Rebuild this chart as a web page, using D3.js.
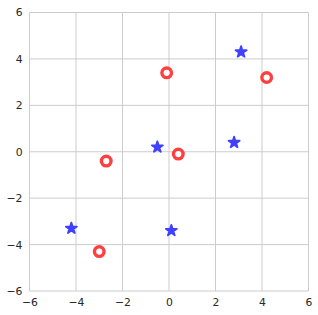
<!DOCTYPE html>
<html>
<head>
<meta charset="utf-8">
<script src="https://cdn.jsdelivr.net/npm/d3@7"></script>
<style>
  body { margin: 0; background: #fff; }
  text { font-family: "DejaVu Sans", sans-serif; }
</style>
</head>
<body>
<div class="chart"></div>
<script>
// red hollow circles
var circleX = [-0.1, 4.2, -2.7, 0.4, -3.0];
var circleY = [3.4, 3.2, -0.4, -0.1, -4.3];
// blue stars
var starX = [3.1, -0.5, 2.8, -4.2, 0.1];
var starY = [4.3, 0.2, 0.4, -3.3, -3.4];
var ticks = [-6, -4, -2, 0, 2, 4, 6];

var width = 318, height = 315;
var plotLeft = 29.5, plotRight = 308.5, plotTop = 12.5, plotBottom = 291;

var svg = d3.select('.chart')
    .append("svg")
    .attr("width", width)
    .attr("height", height);

var x = d3.scaleLinear().domain([-6, 6]).range([plotLeft, plotRight]);
var y = d3.scaleLinear().domain([-6, 6]).range([plotBottom, plotTop]);

// grid
svg.append("g").selectAll("line")
    .data(ticks)
  .enter().append("line")
    .attr("x1", function(d) { return x(d); })
    .attr("x2", function(d) { return x(d); })
    .attr("y1", plotTop)
    .attr("y2", plotBottom)
    .attr("stroke", "#cccccc")
    .attr("stroke-width", 1);
svg.append("g").selectAll("line")
    .data(ticks)
  .enter().append("line")
    .attr("y1", function(d) { return y(d); })
    .attr("y2", function(d) { return y(d); })
    .attr("x1", plotLeft)
    .attr("x2", plotRight)
    .attr("stroke", "#cccccc")
    .attr("stroke-width", 1);

function fmt(d) { return d < 0 ? "\u2212" + Math.abs(d) : d; }

// axes (labels only, no tick marks)
var xAxis = svg.append("g")
    .attr("transform", "translate(0," + plotBottom + ")")
    .call(d3.axisBottom(x).tickValues(ticks).tickSize(0).tickPadding(7.5).tickFormat(fmt));
var yAxis = svg.append("g")
    .attr("transform", "translate(" + plotLeft + ",0)")
    .call(d3.axisLeft(y).tickValues(ticks).tickSize(0).tickPadding(7).tickFormat(fmt));
[xAxis, yAxis].forEach(function(a) {
  a.select(".domain").remove();
  a.selectAll("text")
      .attr("font-family", "DejaVu Sans, sans-serif")
      .attr("font-size", 10.8)
      .attr("fill", "#262626");
});

// markers
var circles = circleX.map(function(v, i) { return { x: v, y: circleY[i] }; });
var stars = starX.map(function(v, i) { return { x: v, y: starY[i] }; });

svg.append("g").selectAll("circle")
    .data(circles)
  .enter().append("circle")
    .attr("cx", function(d) { return x(d.x); })
    .attr("cy", function(d) { return y(d.y); })
    .attr("r", 4.8)
    .attr("fill", "white")
    .attr("stroke", "#ff4040")
    .attr("stroke-width", 3.4);

var star = d3.symbol().type(d3.symbolStar).size(38);
svg.append("g").selectAll("path")
    .data(stars)
  .enter().append("path")
    .attr("transform", function(d) { return "translate(" + x(d.x) + "," + y(d.y) + ")"; })
    .attr("d", star)
    .attr("fill", "#4040ff")
    .attr("stroke", "#4040ff")
    .attr("stroke-width", 1.8)
    .attr("stroke-linejoin", "round");
</script>
</body>
</html>
